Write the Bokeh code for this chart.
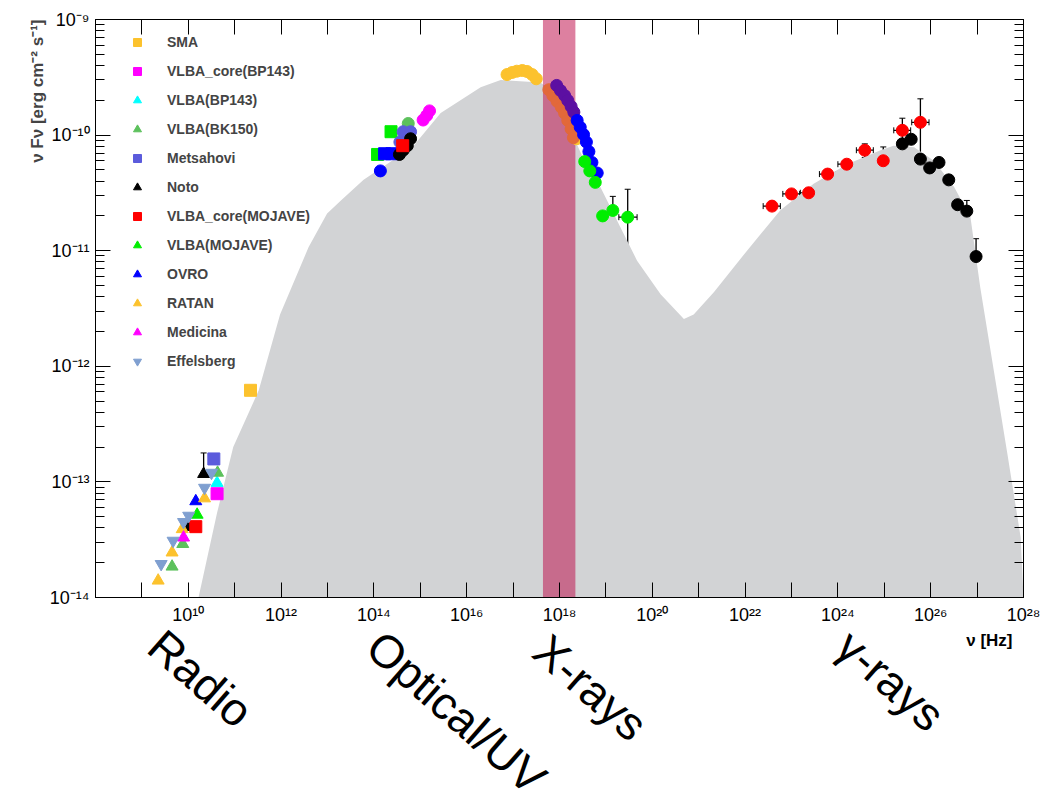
from bokeh.plotting import figure
from bokeh.layouts import column
from bokeh.models import (ColumnDataSource, Whisker, TeeHead, FixedTicker, LogAxis,
                          Legend, LegendItem, Title, Range1d)
from bokeh.core.properties import value
from bokeh.embed import file_html
from bokeh.resources import INLINE

# ---------------- data ----------------
# SED model (grey area)
model_nu = [1.66e10, 4.17e10, 9.3e10, 3.3e11, 9.5e11, 3.9e12, 9.8e12, 2.0e13, 6.0e13,
            6.8e14, 2.75e15, 2.0e16, 5.4e16, 3.9e17, 5.9e17, 8.9e17, 1.29e18, 2.04e18,
            3.5e18, 4.5e18, 5.9e18, 7.6e18, 2.04e19, 4.7e19, 1.51e20, 4.8e20, 7.8e20,
            2.14e21, 1.1e22, 5.75e22, 3.0e23, 1.58e24, 8.3e24, 1.58e25, 4.4e25, 1.17e26,
            3.2e26, 7.2e26, 1.17e27, 2.3e27, 4.5e27, 8.7e27, 1.0e28]
model_f = [1.0e-14, 5.4e-14, 2.0e-13, 6.2e-13, 2.8e-12, 1.07e-11, 2.1e-11, 2.75e-11, 4.1e-11,
           7.9e-11, 1.55e-10, 2.6e-10, 3.0e-10, 2.85e-10, 2.5e-10, 2.0e-10, 1.55e-10, 9.5e-11,
           5.9e-11, 4.9e-11, 3.9e-11, 3.55e-11, 1.6e-11, 8.2e-12, 4.2e-12, 2.57e-12, 2.8e-12,
           4.4e-12, 1.0e-11, 2.24e-11, 3.8e-11, 5.6e-11, 7.4e-11, 8.1e-11, 7.85e-11, 6.0e-11,
           3.55e-11, 1.95e-11, 4.8e-12, 9.1e-13, 1.74e-13, 3.3e-14, 1.0e-14]
# X-ray band highlight
band_nu = [4.4e17, 2.2e18]

# Radio instruments (legend)
sma_nu, sma_f = [2.19e11], [6.2e-13]
vcbp_nu, vcbp_f = [4.17e10], [7.9e-14]
vbp_nu, vbp_f = [4.17e10], [9.8e-14]
vbk_nu, vbk_f = [4.27e10, 7.6e9, 4.47e9], [1.2e-13, 2.9e-14, 1.85e-14]
mets_nu, mets_f = [3.55e10], [1.58e-13]
noto_nu, noto_f = [2.14e10, 9.5e9], [1.17e-13, 4.1e-14]
noto_hi = [1.78e-13, 4.4e-14]
noto_lo = [1.17e-13, 3.8e-14]
vcmo_nu, vcmo_f = [1.45e10], [4.1e-14]
vmo_nu, vmo_f = [1.55e10], [5.2e-14]
ovro_nu, ovro_f = [1.45e10], [6.8e-14]
ratan_nu, ratan_f = [2.24e10, 7.4e9, 4.47e9, 2.24e9], [7.2e-14, 3.9e-14, 2.45e-14, 1.4e-14]
medi_nu, medi_f = [7.9e9], [3.3e-14]
effb_nu = [3.16e10, 2.24e10, 1.02e10, 7.9e9, 4.7e9, 2.6e9]
effb_f = [1.2e-13, 8.9e-14, 5.1e-14, 4.5e-14, 3.1e-14, 1.95e-14]

# Optical / UV
opt_mag_nu, opt_mag_f = [1.58e15, 1.38e15, 1.15e15], [1.62e-10, 1.48e-10, 1.35e-10]
opt_grn_nu, opt_grn_f = [2.34e14, 1.2e14], [1.07e-10, 6.8e-11]
opt_blue_sq_nu, opt_blue_sq_f = [1.7e14, 2.45e14], [6.9e-11, 6.9e-11]
opt_blue_c_nu, opt_blue_c_f = [1.38e14], [4.9e-11]
opt_bk_nu, opt_bk_f = [5.5e14], [1.26e-10]
opt_met_nu, opt_met_f = [4.27e14, 6.17e14, 3.63e14], [1.07e-10, 1.07e-10, 8.7e-11]
opt_blk_nu, opt_blk_f = [6.17e14, 5.25e14, 4.27e14, 3.55e14], [9.3e-11, 8.1e-11, 7.4e-11, 6.8e-11]
opt_red_nu, opt_red_f = [4.17e14], [8.1e-11]

# X-rays
xy_nu = [7.4e16, 9.5e16, 1.2e17, 1.58e17, 2.0e17, 2.57e17, 3.16e17, 2.34e18]
xy_f = [3.34e-10, 3.48e-10, 3.57e-10, 3.62e-10, 3.55e-10, 3.34e-10, 3.07e-10, 9.3e-11]
xp_nu = [8.7e17, 1.05e18, 1.29e18, 1.51e18, 1.78e18, 2.04e18]
xp_f = [2.69e-10, 2.43e-10, 2.2e-10, 1.99e-10, 1.77e-10, 1.58e-10]
xo_nu = [5.9e17, 7.2e17, 8.9e17, 1.1e18, 1.29e18, 1.51e18, 1.78e18, 2.0e18]
xo_f = [2.47e-10, 2.2e-10, 1.96e-10, 1.74e-10, 1.55e-10, 1.34e-10, 1.13e-10, 9.5e-11]
xb_nu = [2.4e18, 2.8e18, 3.3e18, 3.8e18, 4.3e18, 5.0e18, 6.5e18]
xb_f = [1.34e-10, 1.17e-10, 1.01e-10, 8.7e-11, 7.2e-11, 5.8e-11, 4.7e-11]
xg_nu = [3.5e18, 4.5e18, 5.9e18, 8.5e18, 1.41e19, 2.95e19]
xg_f = [5.9e-11, 4.9e-11, 3.9e-11, 2.0e-11, 2.23e-11, 1.95e-11]
xg_hi = [6.3e-11, 5.3e-11, 4.3e-11, 2.38e-11, 2.95e-11, 3.4e-11]
xg_lo = [5.5e-11, 4.5e-11, 3.5e-11, 1.45e-11, 1.55e-11, 5.5e-12]
xg_xlo = [3.4e18, 4.4e18, 5.7e18, 8.2e18, 1.36e19, 1.9e19]
xg_xhi = [3.6e18, 4.6e18, 6.1e18, 8.8e18, 1.46e19, 4.7e19]

# Gamma rays
gr_nu = [3.8e22, 1.0e23, 2.34e23, 6.0e23, 1.55e24, 3.8e24, 9.5e24, 2.45e25, 6.0e25]
gr_f = [2.43e-11, 3.1e-11, 3.17e-11, 4.6e-11, 5.6e-11, 7.4e-11, 6.0e-11, 1.1e-10, 1.29e-10]
gr_hi = [2.6e-11, 3.25e-11, 3.3e-11, 4.85e-11, 5.9e-11, 8.4e-11, 7.9e-11, 1.4e-10, 2.06e-10]
gr_lo = [2.27e-11, 2.95e-11, 3.05e-11, 4.35e-11, 5.3e-11, 6.4e-11, 4.5e-11, 8.6e-11, 6.5e-11]
gr_xlo = [2.45e22, 6.5e22, 1.55e23, 4.0e23, 1.0e24, 2.5e24, 6.5e24, 1.6e25, 3.9e25]
gr_xhi = [5.75e22, 1.5e23, 3.5e23, 9.0e23, 2.4e24, 5.8e24, 1.35e25, 3.7e25, 9.2e25]
gb_nu = [2.45e25, 3.8e25, 6.0e25, 9.5e25, 1.51e26, 2.45e26, 3.8e26, 6.0e26, 9.5e26]
gb_f = [8.4e-11, 9.2e-11, 6.2e-11, 5.2e-11, 5.8e-11, 4.1e-11, 2.5e-11, 2.2e-11, 8.9e-12]
gb_hi = [8.4e-11, 9.2e-11, 6.2e-11, 5.2e-11, 5.8e-11, 4.3e-11, 2.7e-11, 2.72e-11, 1.27e-11]
gb_lo = [8.4e-11, 9.2e-11, 6.2e-11, 5.2e-11, 5.8e-11, 3.9e-11, 2.3e-11, 1.71e-11, 5.0e-12]

x_decades = list(range(8, 29))
y_decades = list(range(-14, -8))
sup = str.maketrans("-0123456789", "⁻⁰¹²³⁴⁵⁶⁷⁸⁹")

# band captions below the plot
band_labels = ["Radio", "Optical/UV", "X-rays", "γ-rays"]

# ---------------- figure ----------------
FONT = "Liberation Sans"
MAIN_H = 627
p = figure(width=1050, height=MAIN_H, x_axis_type="log", y_axis_type="log",
           x_range=(1e8, 1e28), y_range=(1e-14, 1e-9),
           output_backend="svg", toolbar_location=None,
           min_border_left=95, min_border_right=27, min_border_top=19, min_border_bottom=30)
p.background_fill_color = "white"
p.border_fill_color = "white"
p.outline_line_color = "black"
p.outline_line_width = 1
p.grid.visible = False

xt = [10.0 ** d for d in x_decades]
yt = [10.0 ** d for d in y_decades]
yminor = [m * 10.0 ** d for d in y_decades[:-1] for m in range(2, 10)]
xover = {10.0 ** d: ("10" + str(d).translate(sup) if (d % 2 == 0 and d >= 10) else "") for d in x_decades}
yover = {10.0 ** d: "10" + str(d).translate(sup) for d in y_decades}

def style_axis(ax, ticks, minor, overrides, show_labels):
    ax.ticker = FixedTicker(ticks=ticks, minor_ticks=minor)
    ax.major_tick_in = 15
    ax.major_tick_out = 0
    ax.minor_tick_in = 9
    ax.minor_tick_out = 0
    ax.axis_line_color = "black"
    ax.major_tick_line_color = "black"
    ax.minor_tick_line_color = "black"
    ax.major_label_overrides = overrides if show_labels else {t: "" for t in ticks}
    ax.major_label_text_font = FONT
    ax.major_label_text_font_size = "18px"
    ax.major_label_text_color = "black"

style_axis(p.xaxis[0], xt, [], xover, True)
p.xaxis[0].major_label_standoff = 7
style_axis(p.yaxis[0], yt, yminor, yover, True)
p.yaxis[0].major_label_standoff = 6

ax_top = LogAxis()
style_axis(ax_top, xt, [], {}, False)
p.add_layout(ax_top, "above")
ax_right = LogAxis()
style_axis(ax_right, yt, yminor, {}, False)
p.add_layout(ax_right, "right")

# y-axis title, at the top end of the axis
p.add_layout(Title(text="ν Fν [erg cm⁻² s⁻¹]", align="right", text_font=FONT,
                   text_font_style="bold", text_font_size="17px", standoff=0,
                   offset=0), "left")

# model
p.varea(x=model_nu, y1=[1e-14] * len(model_nu), y2=model_f, fill_color="#d2d3d5")
# X-ray band
p.quad(left=[band_nu[0]], right=[band_nu[1]], bottom=[1e-14], top=[1e-9],
       fill_color="#be0c49", fill_alpha=0.52, line_color=None)

def yerr(nu, hi, lo, w=6):
    src = ColumnDataSource(dict(x=nu, hi=hi, lo=lo))
    p.add_layout(Whisker(source=src, base="x", upper="hi", lower="lo", dimension="height",
                         line_color="black", line_width=1.3,
                         upper_head=TeeHead(size=w, line_color="black"),
                         lower_head=TeeHead(size=w, line_color="black")))

def xerr(nu_lo, nu_hi, f, w=6):
    src = ColumnDataSource(dict(y=f, hi=nu_hi, lo=nu_lo))
    p.add_layout(Whisker(source=src, base="y", upper="hi", lower="lo", dimension="width",
                         line_color="black", line_width=1.3,
                         upper_head=TeeHead(size=w, line_color="black"),
                         lower_head=TeeHead(size=w, line_color="black")))

yerr(noto_nu, noto_hi, noto_lo)
yerr(xg_nu, xg_hi, xg_lo)
xerr(xg_xlo, xg_xhi, xg_f)
yerr(gr_nu, gr_hi, gr_lo)
xerr(gr_xlo, gr_xhi, gr_f)
yerr(gb_nu, gb_hi, gb_lo)

YEL = "#fcc22d"
MAG = "#ff00ff"
CYA = "#00ffff"
BKG = "#5cc15c"
MET = "#5b5bdc"
RED = "#ff0000"
GRN = "#00ee00"
BLU = "#0000ff"
EFF = "#7f9fd0"

# non-legend points
p.scatter(opt_mag_nu, opt_mag_f, marker="circle", size=12, color=MAG)
p.scatter(opt_grn_nu, opt_grn_f, marker="square", size=12, color=GRN)
p.scatter(opt_blue_sq_nu, opt_blue_sq_f, marker="square", size=12, color=BLU)
p.scatter(opt_blue_c_nu, opt_blue_c_f, marker="circle", size=12, color=BLU)
p.scatter(opt_bk_nu, opt_bk_f, marker="circle", size=12, color=BKG)
p.scatter(opt_met_nu, opt_met_f, marker="circle", size=12, color=MET)
p.scatter(opt_blk_nu, opt_blk_f, marker="circle", size=12, color="black")
p.scatter(opt_red_nu, opt_red_f, marker="square", size=12, color=RED)
p.scatter(xy_nu, xy_f, marker="circle", size=12, color=YEL)
p.scatter(xo_nu, xo_f, marker="circle", size=12, color="#e2683a")
p.scatter(xp_nu, xp_f, marker="circle", size=12, color="#5c0fa2")
p.scatter(xb_nu, xb_f, marker="circle", size=12, color=BLU)
p.scatter(xg_nu, xg_f, marker="circle", size=12, color=GRN)
p.scatter(gr_nu, gr_f, marker="circle", size=12, color=RED)
p.scatter(gb_nu, gb_f, marker="circle", size=12, color="black")

# legend series
series = [
    ("SMA", sma_nu, sma_f, "square", YEL),
    ("VLBA_core(BP143)", vcbp_nu, vcbp_f, "square", MAG),
    ("VLBA(BP143)", vbp_nu, vbp_f, "triangle", CYA),
    ("VLBA(BK150)", vbk_nu, vbk_f, "triangle", BKG),
    ("Metsahovi", mets_nu, mets_f, "square", MET),
    ("Noto", noto_nu, noto_f, "triangle", "black"),
    ("VLBA_core(MOJAVE)", vcmo_nu, vcmo_f, "square", RED),
    ("VLBA(MOJAVE)", vmo_nu, vmo_f, "triangle", GRN),
    ("OVRO", ovro_nu, ovro_f, "triangle", BLU),
    ("RATAN", ratan_nu, ratan_f, "triangle", YEL),
    ("Medicina", medi_nu, medi_f, "triangle", MAG),
    ("Effelsberg", effb_nu, effb_f, "inverted_triangle", EFF),
]
items = []
for name, xs, ys, mk, col in series:
    r = p.scatter(xs, ys, marker=mk, size=12, color=col)
    items.append(LegendItem(label=name, renderers=[r]))

legend = Legend(items=items, location=(32, 226), orientation="vertical",
                label_text_font=FONT, label_text_font_style="bold", label_text_font_size="14px",
                glyph_height=20, glyph_width=20, label_height=20, spacing=9, padding=0, margin=0,
                label_standoff=20, border_line_color=None, background_fill_alpha=0)
p.add_layout(legend, "center")

# ---------------- caption strip below ----------------
# (its frame is aligned with the main frame, which spans page x 95..1023)
SUB_H = 789 - MAIN_H
q = figure(width=1050, height=SUB_H, x_range=Range1d(95, 1023), y_range=Range1d(SUB_H, 0),
           output_backend="svg", toolbar_location=None,
           min_border_left=0, min_border_right=0, min_border_top=0, min_border_bottom=0)
q.axis.visible = False
q.grid.visible = False
q.outline_line_color = None
q.background_fill_color = "white"
q.border_fill_color = "white"

cap_src = ColumnDataSource(dict(x=[200, 456, 590, 890],
                                y=[678 - MAIN_H, 712 - MAIN_H, 687 - MAIN_H, 680 - MAIN_H],
                                t=band_labels))
q.text(x="x", y="y", text="t", source=cap_src, angle=-0.72, text_font=value(FONT),
       text_font_size="46px", text_align="center", text_baseline="middle", text_color="black")
q.text(x=[1012], y=[640 - MAIN_H], text=["ν [Hz]"], text_font=value(FONT),
       text_font_style="bold", text_font_size="17px", text_align="right",
       text_baseline="middle", text_color="black")

layout = column(p, q, spacing=0)
open("out.html", "w").write(file_html(layout, INLINE))
